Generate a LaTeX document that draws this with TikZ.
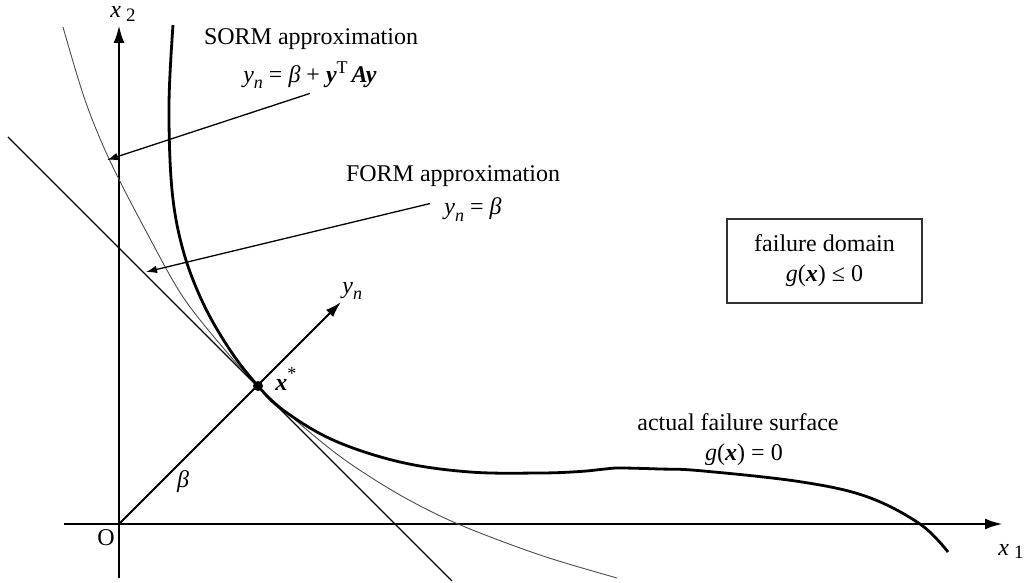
\documentclass[tikz,border=0pt]{standalone}
\usepackage{fontspec}
\setmainfont{Liberation Serif}
\usetikzlibrary{arrows.meta}
\newcommand{\mi}[1]{\textit{#1}}
\newcommand{\mbi}[1]{\textbf{\textit{#1}}}
\newcommand{\sbs}[1]{\raisebox{-0.25em}{\fontsize{9}{9}\selectfont\itshape #1}}
\newcommand{\axsub}[1]{\hspace{2.5pt}\raisebox{-1.7pt}{\fontsize{9.5}{9.5}\selectfont #1}}
\tikzset{
  axisline/.style={line width=1.4pt, -{Latex[length=9pt,width=5.5pt]}},
  ynline/.style={line width=1pt, -{Latex[length=8pt,width=5pt]}},
  actual/.style={line width=1.4pt},
  formline/.style={line width=0.65pt},
  sormline/.style={line width=0.45pt, black!70},
  leader/.style={line width=0.65pt, -{Latex[length=5.5pt,width=3.8pt]}},
  lbl/.style={inner sep=0pt, font=\fontsize{12}{14}\selectfont},
  fbox/.style={draw=black!80, line width=0.9pt, minimum width=97.5pt, minimum height=42pt, align=center, inner sep=0pt, font=\fontsize{12}{15}\selectfont},
  dotnode/.style={circle, fill=black, inner sep=0pt, minimum size=5pt}
}
\begin{document}
\begin{tikzpicture}[x=0.5pt,y=-0.5pt]
\useasboundingbox (0,0) rectangle (1035,583);
% axes
\coordinate (O) at (119,524);
\coordinate (x1s) at (64,524);
\coordinate (x1e) at (1003,524);
\coordinate (x2s) at (119,578);
\coordinate (x2e) at (119,25);
\draw[axisline] (x1s) -- (x1e);
\draw[axisline] (x2s) -- (x2e);
% FORM tangent line
\draw[formline] (8,137) -- (452,581);
% SORM curve
\draw[sormline] plot[smooth, tension=0.55] coordinates {(63,27) (85,100) (110,161) (147,233) (183,297) (225,350) (258,386) (300,424) (345,460) (400,495) (458,524) (540,555) (617,578)};
% actual failure surface
\draw[actual] plot[smooth, tension=0.6] coordinates {(173,25) (169,105) (172,190) (183,250) (203,303) (230,350) (258,386) (283,410) (333,440) (400,462) (470,472) (540,473) (580,471.5) (605,469) (620,468) (660,469) (700,470.7) (800,481.7) (867,496.7) (920,524) (948,552)};
% y_n axis
\coordinate (yntip) at (341,302);
\draw[ynline] (O) -- (yntip);
\node[dotnode] (xs) at (258,386) {};
% labels
\node[lbl, anchor=base west] (lx2) at (110,18) {\mi{x}\axsub{2}};
\node[lbl, anchor=base west] (lx1) at (998,555) {\mi{x}\axsub{1}};
\node[lbl] (lO) at (106,538) {O};
\node[lbl] (lbeta) at (183,482) {\mi{β}};
\node[lbl, anchor=base west] (lyn) at (342,293) {\mi{y}\sbs{n}};
\node[lbl, anchor=base west] (lxs) at (275,390) {\mbi{x}\raisebox{0.45em}{\fontsize{9}{9}\selectfont *}};
\node[lbl, anchor=base] (sormt) at (311,45) {SORM approximation};
\node[lbl, anchor=base, inner sep=2pt] (sormeq) at (310,83) {\mi{y}\sbs{n} = \mi{β} + \mbi{y}\raisebox{0.4em}{\fontsize{9}{9}\selectfont T}\,\mbi{Ay}};
\node[lbl, anchor=base] (formt) at (453,182) {FORM approximation};
\node[lbl, anchor=base west, inner xsep=7pt] (formeq) at (430,215) {\mi{y}\sbs{n} = \mi{β}};
\node[lbl, anchor=base] (afs) at (738,430) {actual failure surface};
\node[lbl, anchor=base] (afseq) at (744,460) {\mi{g}(\mbi{x}) = 0};
\node[fbox] (fd) at (824.5,261) {failure domain\\\mi{g}(\mbi{x}) ≤ 0};
% leaders
\coordinate (sormtip) at (107,160);
\coordinate (formtip) at (146,272);
\draw[leader] (sormeq.south) -- (sormtip);
\draw[leader] ([yshift=3pt]formeq.west) -- (formtip);
\end{tikzpicture}
\end{document}
